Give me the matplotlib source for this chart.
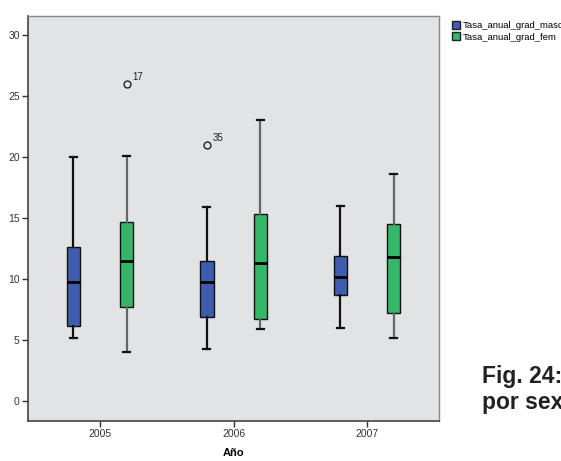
import matplotlib.pyplot as plt
from matplotlib.patches import Patch

years = ['2005', '2006', '2007']
series = ['Tasa_anual_grad_masc', 'Tasa_anual_grad_fem']
colors = ['#3f5cae', '#35b76a']

# box stats: [whislo, q1, med, q3, whishi]
masc = [[5.2, 6.15, 9.8, 12.65, 20.05],
        [4.3, 6.85, 9.8, 11.5, 15.9],
        [6.0, 8.7, 10.15, 11.9, 16.0]]
fem = [[4.05, 7.7, 11.5, 14.7, 20.1],
       [5.9, 6.7, 11.3, 15.35, 23.1],
       [5.15, 7.25, 11.85, 14.5, 18.6]]
masc_out = [[], [21.0], []]
fem_out = [[26.0], [], []]
masc_lab = [[], ['35'], []]
fem_lab = [['17'], [], []]

plt.rcParams['font.family'] = ['Liberation Sans', 'DejaVu Sans']
fig = plt.figure(figsize=(5.61, 4.61), dpi=100)
ax = fig.add_axes([0.05, 0.0868, 0.7325, 0.8785])
ax.set_facecolor('#e2e3e5')


def stats(d, out):
    return [{'whislo': s[0], 'q1': s[1], 'med': s[2], 'q3': s[3], 'whishi': s[4],
             'fliers': o} for s, o in zip(d, out)]


off = 0.2
groups = [(masc, masc_out, masc_lab, -off, colors[0], '#111111'),
          (fem, fem_out, fem_lab, off, colors[1], '#666666')]
for d, out, lab, dx, c, wc in groups:
    pos = [i + dx for i in range(len(years))]
    ax.bxp(stats(d, out), positions=pos, widths=0.1, patch_artist=True,
           boxprops=dict(facecolor=c, edgecolor='#111111', linewidth=1.0),
           medianprops=dict(color='black', linewidth=2),
           whiskerprops=dict(color=wc, linewidth=1.6),
           capprops=dict(color='#111111', linewidth=1.6),
           capwidths=0.05,
           flierprops=dict(marker='o', markerfacecolor='none',
                           markeredgecolor='#222222', markersize=5))
    for p, vals, labs in zip(pos, out, lab):
        for v, l in zip(vals, labs):
            ax.annotate(l, (p, v), xytext=(4, 3), textcoords='offset points',
                        fontsize=7, color='#222222')

ax.set_xlim(-0.54, 2.54)
ax.set_ylim(-1.65, 31.6)
ax.set_xticks(range(len(years)))
ax.set_xticklabels(years)
ax.set_yticks([0, 5, 10, 15, 20, 25, 30])
ax.tick_params(labelsize=7.5, length=4, width=1, colors='#333333', pad=2)
ax.set_xlabel('Año', fontsize=8, fontweight='bold', labelpad=6)
for s in ['left', 'bottom']:
    ax.spines[s].set_color('#444444')
    ax.spines[s].set_linewidth(1.2)
for s in ['top', 'right']:
    ax.spines[s].set_color('#888888')
    ax.spines[s].set_linewidth(1.0)

handles = [Patch(facecolor=c, edgecolor='#222222', label=s) for c, s in zip(colors, series)]
fig.legend(handles=handles, loc='upper left', bbox_to_anchor=(0.797, 0.965),
           frameon=False, fontsize=6.8, handlelength=0.9, handleheight=0.9,
           handletextpad=0.3, labelspacing=0.25, borderpad=0)

fig.text(0.86, 0.169, 'Fig. 24:', fontsize=16.5, fontweight='bold', color='#222222',
         va='baseline')
fig.text(0.86, 0.113, 'por sexo', fontsize=16.5, fontweight='bold', color='#222222',
         va='baseline')

fig.savefig('out.png', dpi=100)
